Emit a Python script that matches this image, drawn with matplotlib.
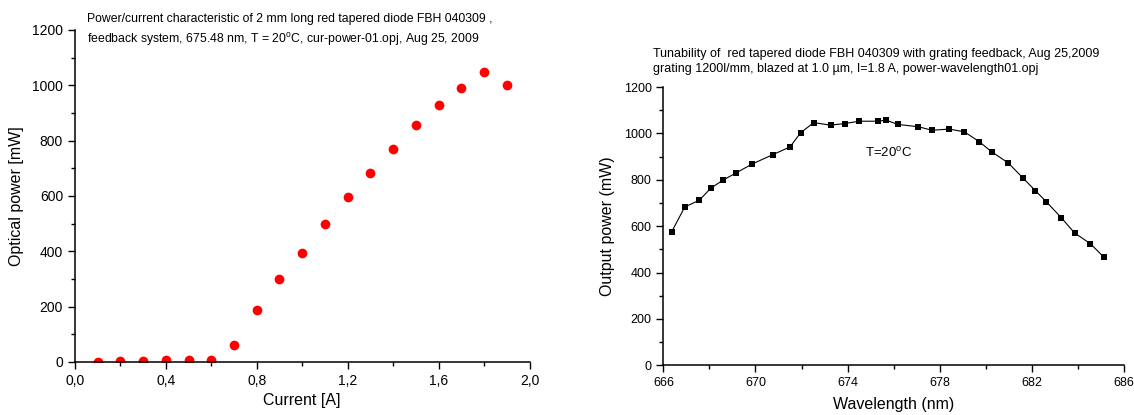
import matplotlib
matplotlib.use("Agg")
import matplotlib.pyplot as plt
from matplotlib.ticker import MultipleLocator, FixedLocator, FuncFormatter

plt.rcParams['font.family'] = ['Liberation Sans', 'DejaVu Sans']
plt.rcParams['mathtext.fontset'] = 'custom'
plt.rcParams['mathtext.rm'] = 'Liberation Sans'
plt.rcParams['mathtext.it'] = 'Liberation Sans'

# left panel: power vs current
current = [0.1, 0.2, 0.3, 0.4, 0.5, 0.6, 0.7, 0.8, 0.9, 1.0,
           1.1, 1.2, 1.3, 1.4, 1.5, 1.6, 1.7, 1.8, 1.9]
optical_power = [1, 2, 3, 5, 6, 8, 61, 189, 299, 395,
                 500, 596, 684, 770, 857, 927, 990, 1049, 1000]

# right panel: power vs wavelength
wavelength = [666.36, 666.93, 667.56, 668.06, 668.61, 669.16, 669.85, 670.76,
              671.50, 671.96, 672.53, 673.26, 673.88, 674.51, 675.34, 675.65,
              676.20, 677.08, 677.67, 678.42, 679.08, 679.73, 680.26, 680.98,
              681.63, 682.16, 682.64, 683.28, 683.86, 684.54, 685.15]
output_power = [576, 683, 712, 764, 800, 830, 868, 909,
                942, 1003, 1047, 1036, 1043, 1053, 1053, 1058,
                1039, 1029, 1014, 1019, 1007, 964, 921, 873,
                807, 753, 705, 637, 571, 525, 465]
wl_ticks = [666, 670, 674, 678, 682, 686]


def origin_style(ax):
    ax.spines['top'].set_visible(False)
    ax.spines['right'].set_visible(False)
    ax.tick_params(which='both', direction='out', top=False, right=False,
                   labelsize=10, colors='black')
    ax.tick_params(which='major', length=5, width=1)
    ax.tick_params(which='minor', length=3, width=1)
    for s in ['left', 'bottom']:
        ax.spines[s].set_linewidth(1.1)


fig = plt.figure(figsize=(11.34, 4.15), dpi=100)

ax1 = fig.add_axes([0.066, 0.128, 0.401, 0.800])
ax1.plot(current, optical_power, 'o', color='red', markersize=7, markeredgewidth=0)
ax1.set_xlim(0, 2.0)
ax1.set_ylim(0, 1200)
ax1.xaxis.set_major_locator(MultipleLocator(0.4))
ax1.xaxis.set_minor_locator(MultipleLocator(0.2))
ax1.yaxis.set_major_locator(MultipleLocator(200))
ax1.yaxis.set_minor_locator(MultipleLocator(100))
ax1.xaxis.set_major_formatter(FuncFormatter(lambda v, p: f"{v:.1f}".replace('.', ',')))
origin_style(ax1)
ax1.set_xlabel('Current [A]', fontsize=11.5, labelpad=4)
ax1.set_ylabel('Optical power [mW]', fontsize=11.5, labelpad=6)
ax1.text(0.027, 1.05, 'Power/current characteristic of 2 mm long red tapered diode FBH 040309 ,\n'
         'feedback system, 675.48 nm, T = 20$^{\\rm o}$C, cur-power-01.opj, Aug 25, 2009',
         transform=ax1.transAxes, fontsize=8.8, va='top', ha='left', linespacing=1.5)

ax2 = fig.add_axes([0.585, 0.120, 0.406, 0.670])
ax2.plot(wavelength, output_power, '-s', color='black', linewidth=0.8,
         markersize=5, markeredgewidth=0)
ax2.set_xlim(666, 686)
ax2.set_ylim(0, 1200)
ax2.xaxis.set_major_locator(FixedLocator(wl_ticks))
ax2.xaxis.set_minor_locator(MultipleLocator(2))
ax2.yaxis.set_major_locator(MultipleLocator(200))
ax2.yaxis.set_minor_locator(MultipleLocator(100))
origin_style(ax2)
ax2.tick_params(labelsize=9)
ax2.set_xlabel('Wavelength (nm)', fontsize=11.5, labelpad=6)
ax2.set_ylabel('Output power (mW)', fontsize=11.5, labelpad=6)
ax2.text(675.8, 915, 'T=20$^{\\rm o}$C', fontsize=9.5, ha='center', va='center')
fig.text(0.576, 0.885, 'Tunability of  red tapered diode FBH 040309 with grating feedback, Aug 25,2009\n'
         'grating 1200l/mm, blazed at 1.0 µm, I=1.8 A, power-wavelength01.opj',
         fontsize=9, va='top', ha='left', linespacing=1.35)

fig.savefig('out.png', dpi=100)
